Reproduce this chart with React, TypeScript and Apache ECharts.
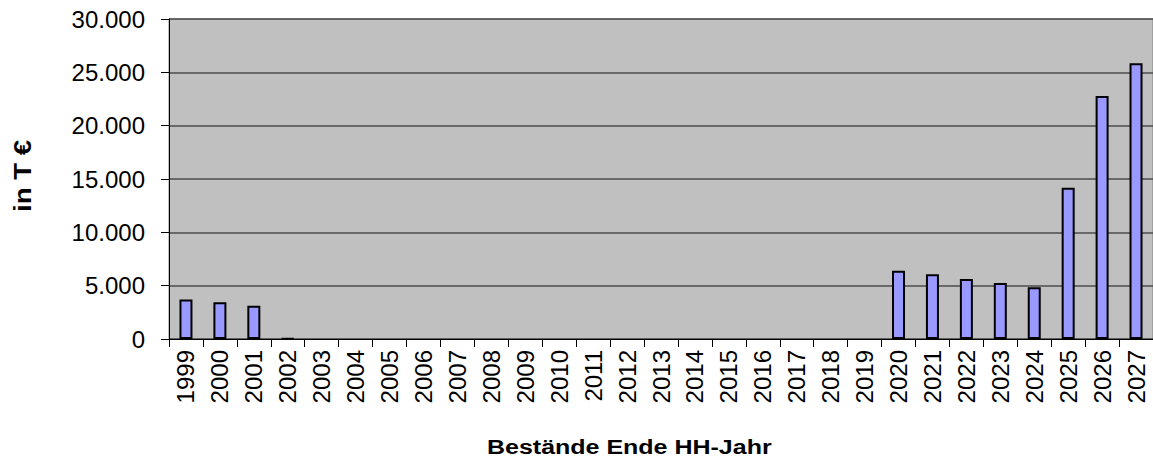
import React, { useEffect, useRef } from "react";
import * as echarts from "echarts";

const years: string[] = [
  "1999", "2000", "2001", "2002", "2003", "2004", "2005", "2006", "2007", "2008",
  "2009", "2010", "2011", "2012", "2013", "2014", "2015", "2016", "2017", "2018",
  "2019", "2020", "2021", "2022", "2023", "2024", "2025", "2026", "2027",
];
const bestaende: number[] = [
  3700, 3440, 3120, 60, 0, 0, 0, 0, 0, 0,
  0, 0, 0, 0, 0, 0, 0, 0, 0, 0,
  0, 6400, 6060, 5620, 5250, 4850, 14180, 22780, 25840,
];
const yTicks = { min: 0, max: 30000, interval: 5000 };
const xTitle = "Bestände Ende HH-Jahr";
const yTitle = "in T €";

const FONT = "'Liberation Sans', Arial, sans-serif";

function fmt(v: number): string {
  const s = String(Math.round(v));
  return s.replace(/\B(?=(\d{3})+(?!\d))/g, ".");
}

export default function App() {
  const ref = useRef<HTMLDivElement>(null);
  useEffect(() => {
    if (!ref.current) return;
    const chart = echarts.init(ref.current, undefined, { renderer: "svg" });
    chart.setOption({
      animation: false,
      backgroundColor: "#ffffff",
      textStyle: { fontFamily: FONT },
      grid: {
        left: 169,
        right: 0,
        top: 19,
        bottom: 124,
        show: true,
        backgroundColor: "#c0c0c0",
        borderColor: "#808080",
        borderWidth: 1,
      },
      xAxis: {
        type: "category",
        data: years,
        axisLine: { show: true, lineStyle: { color: "#000000", width: 1 } },
        axisTick: { show: true, length: 8, lineStyle: { color: "#000000" } },
        axisLabel: {
          rotate: 90,
          margin: 11,
          fontSize: 24,
          color: "#000000",
          fontFamily: FONT,
          interval: 0,
          hideOverlap: false,
        },
      },
      yAxis: {
        type: "value",
        min: yTicks.min,
        max: yTicks.max,
        interval: yTicks.interval,
        axisLine: { show: true, lineStyle: { color: "#000000", width: 1 } },
        axisTick: { show: true, length: 8, lineStyle: { color: "#000000" } },
        splitLine: { show: true, lineStyle: { color: "#4d4d4d", width: 1.5 } },
        axisLabel: {
          margin: 24,
          fontSize: 24,
          color: "#000000",
          fontFamily: FONT,
          formatter: (v: number) => fmt(v),
        },
      },
      series: [
        {
          type: "bar",
          data: bestaende.map((v) =>
            v === 0 ? { value: v, itemStyle: { borderWidth: 0 } } : v
          ),
          barWidth: 13,
          itemStyle: { color: "#9999ff", borderColor: "#000000", borderWidth: 2 },
        },
      ],
      graphic: [
        {
          type: "text",
          left: 487,
          top: 437,
          scaleX: 1.25,
          style: {
            text: xTitle,
            font: `bold 20px ${FONT}`,
            fill: "#000000",
          },
        },
        {
          type: "text",
          x: 11,
          y: 212,
          rotation: Math.PI / 2,
          scaleX: 1.15,
          style: {
            text: yTitle,
            font: `bold 24px ${FONT}`,
            fill: "#000000",
            align: "left",
            verticalAlign: "top",
          },
        },
      ],
    });
    return () => chart.dispose();
  }, []);
  return (
    <div
      ref={ref}
      style={{ position: "fixed", left: 0, top: 0, width: 1153, height: 463 }}
    />
  );
}
